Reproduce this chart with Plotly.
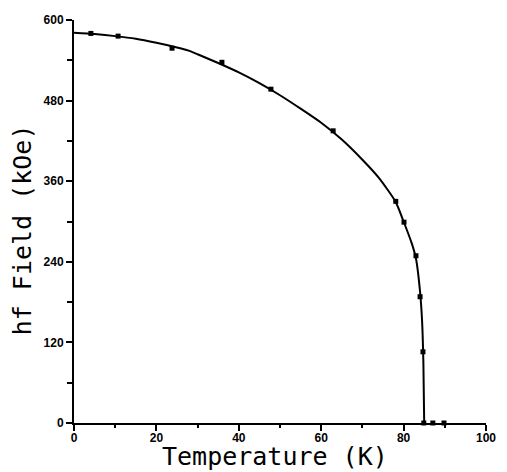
import plotly.graph_objects as go

# measured points
temp_pts = [4.1, 10.7, 23.8, 35.9, 47.8, 62.9, 78.1, 80.1, 83.0, 84.0, 84.7, 84.9, 87.1, 89.8]
field_pts = [580, 576, 558, 537, 497, 435, 330, 299, 249, 188, 106, 0, 0, 0]

# fitted curve
temp_fit = [0, 5, 10, 15, 20, 25, 28, 30, 35, 40, 45, 50, 55, 60, 65, 70, 74, 78, 80, 82, 83, 84, 84.5, 84.8, 85]
field_fit = [581, 579, 576, 572, 566, 559, 554, 549, 536, 522, 506, 488, 468, 447, 422, 392, 365, 330, 300, 267, 245, 195, 150, 90, 0]

x_ticks = [0, 20, 40, 60, 80, 100]
y_ticks = [0, 120, 240, 360, 480, 600]
x_title = "Temperature (K)"
y_title = "hf Field (kOe)"

fig = go.Figure()
fig.add_trace(go.Scatter(x=temp_fit, y=field_fit, mode="lines",
                         line=dict(color="black", width=2, shape="spline", smoothing=0.6),
                         showlegend=False, hoverinfo="skip", cliponaxis=False))
fig.add_trace(go.Scatter(x=temp_pts, y=field_pts, mode="markers",
                         marker=dict(symbol="square", size=5, color="black"),
                         showlegend=False, cliponaxis=False))

tickfont = dict(family="Liberation Sans", size=12, color="black", weight="bold")
titlefont = dict(family="DejaVu Sans Mono", size=25, color="black")

fig.update_xaxes(range=[0, 100], tickvals=x_ticks, ticktext=[str(v) for v in x_ticks],
                 showgrid=False, zeroline=False, showline=True, linecolor="black", linewidth=2,
                 ticks="outside", ticklen=6, tickwidth=2, tickcolor="black",
                 minor=dict(tickvals=[10, 30, 50, 70, 90], ticks="outside", ticklen=3, tickwidth=2, tickcolor="black"),
                 tickfont=tickfont, automargin=False, ticklabelstandoff=-3)
fig.update_yaxes(range=[0, 600], tickvals=y_ticks, ticktext=[str(v) for v in y_ticks],
                 showgrid=False, zeroline=False, showline=True, linecolor="black", linewidth=2,
                 ticks="outside", ticklen=6, tickwidth=2, tickcolor="black",
                 minor=dict(tickvals=[60, 180, 300, 420, 540], ticks="outside", ticklen=5, tickwidth=2, tickcolor="black"),
                 tickfont=tickfont, automargin=False)

fig.add_annotation(text=x_title, xref="paper", yref="paper", x=0.488, y=-0.083,
                   xanchor="center", yanchor="middle", showarrow=False, font=titlefont)
fig.add_annotation(text=y_title, xref="paper", yref="paper", x=-0.123, y=0.479, textangle=-90,
                   xanchor="center", yanchor="middle", showarrow=False, font=titlefont)

# page has an 8px body margin, so the figure is sized/offset to compensate
fig.update_layout(width=499, height=464, margin=dict(l=66, r=21, t=12, b=49),
                  plot_bgcolor="white", paper_bgcolor="white")

fig.write_html("out.html")
